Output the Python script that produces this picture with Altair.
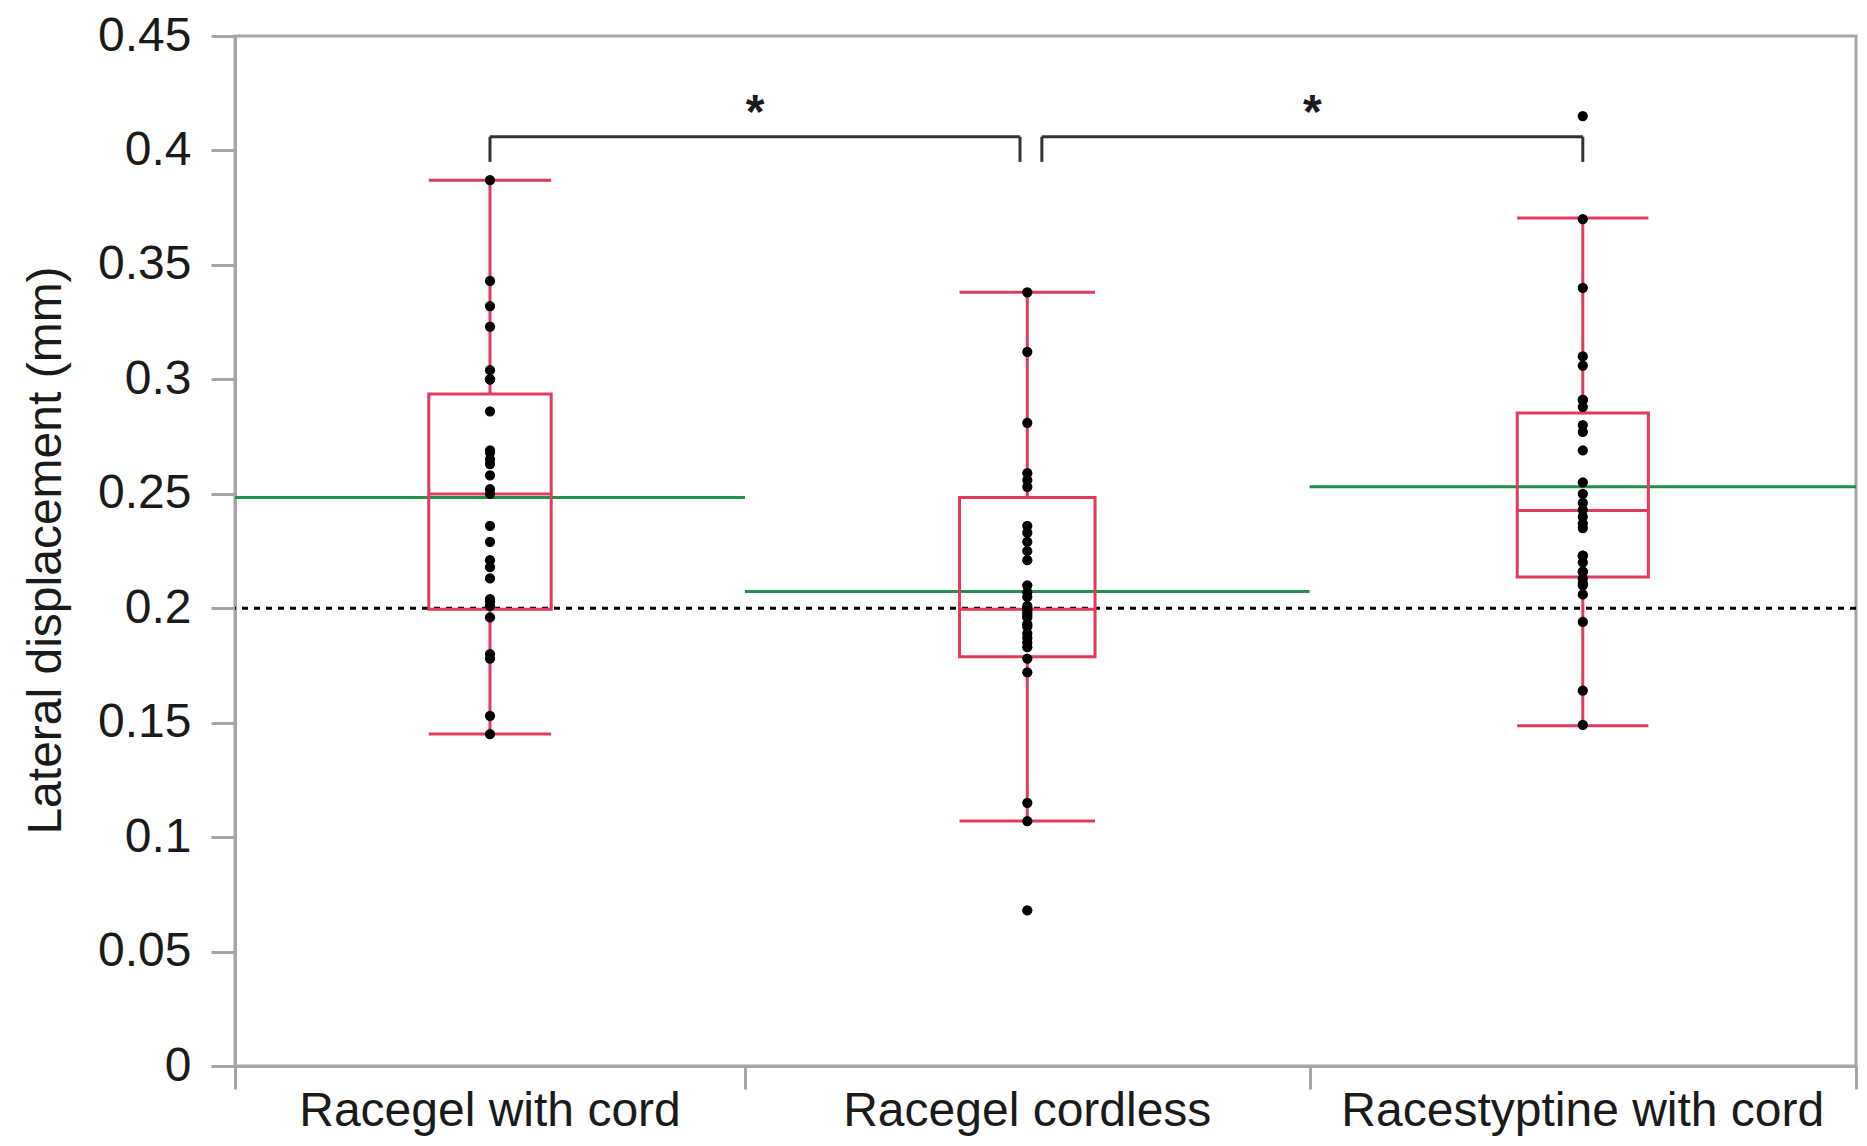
import altair as alt
import pandas as pd
import numpy as np

# ---------------- data ----------------
groups = ["Racegel with cord", "Racegel cordless", "Racestyptine with cord"]

pts_racegel_cord = [0.387, 0.343, 0.332, 0.323, 0.304, 0.300, 0.300, 0.286, 0.269,
                    0.268, 0.265, 0.263, 0.258, 0.252, 0.250, 0.236, 0.229, 0.221,
                    0.218, 0.213, 0.204, 0.203, 0.201, 0.196, 0.180, 0.178, 0.153,
                    0.145]
pts_racegel_cordless = [0.338, 0.312, 0.281, 0.259, 0.256, 0.253, 0.236, 0.233, 0.229,
                        0.225, 0.221, 0.210, 0.207, 0.205, 0.201, 0.200, 0.199, 0.198,
                        0.197, 0.196, 0.193, 0.192, 0.189, 0.187, 0.185, 0.183, 0.178,
                        0.172, 0.115, 0.107, 0.068]
pts_racestyptine_cord = [0.415, 0.370, 0.340, 0.310, 0.306, 0.291, 0.291, 0.288, 0.280,
                         0.277, 0.269, 0.255, 0.250, 0.246, 0.243, 0.240, 0.237, 0.235,
                         0.223, 0.223, 0.220, 0.216, 0.216, 0.213, 0.211, 0.210, 0.206,
                         0.194, 0.164, 0.149]
points = [pts_racegel_cord, pts_racegel_cordless, pts_racestyptine_cord]

q1 = [0.1995, 0.1788, 0.2136]
median = [0.2499, 0.1995, 0.2427]
q3 = [0.2936, 0.2484, 0.2853]
whisker_lo = [0.145, 0.107, 0.1486]
whisker_hi = [0.387, 0.338, 0.3705]
group_mean = [0.2484, 0.2073, 0.2531]
reference = 0.2

# significance brackets: (from group, to group, label)
sig_pairs = [(0, 1, "*"), (1, 2, "*")]
bracket_top = 0.406
bracket_leg = 0.395
star_level = 0.41

y_ticks = [0, 0.05, 0.1, 0.15, 0.2, 0.25, 0.3, 0.35, 0.4, 0.45]

# ---------------- layout derived from group sizes (JMP style) ----------------
n = np.array([len(p) for p in points])
starts = np.concatenate([[0], np.cumsum(n)[:-1]])
ends = np.cumsum(n)
centers = (starts + ends) / 2
total = float(ends[-1])
half_box = 0.12 * n

pt_rows = []
for g, c, vals in zip(groups, centers, points):
    for v in vals:
        pt_rows.append({"group": g, "x": c, "value": v})
df_pts = pd.DataFrame(pt_rows)

df_box = pd.DataFrame({
    "group": groups, "center": centers,
    "lo": centers - half_box, "hi": centers + half_box,
    "gstart": starts, "gend": ends,
    "q1": q1, "med": median, "q3": q3,
    "wlo": whisker_lo, "whi": whisker_hi, "mean": group_mean,
})

gap = 0.8
br_rows = []
for a, b, lab in sig_pairs:
    xa = centers[a] + (gap if a == 1 else 0)
    xb = centers[b] - (gap * 0.5 if b == 1 else 0)
    br_rows.append({"xa": xa, "xb": xb, "top": bracket_top, "leg": bracket_leg,
                    "mid": (xa + xb) / 2, "star": star_level, "label": lab})
df_br = pd.DataFrame(br_rows)

df_ref = pd.DataFrame({"ref": [reference]})

# ---------------- styling ----------------
RED = "#e03a5c"
GREEN = "#23904a"
GREY = "#a6a6a6"
FONT = "Liberation Sans"
TXT = "#1a1a1a"

xscale = alt.Scale(domain=[0, total], nice=False, zero=False)
yscale = alt.Scale(domain=[0, 0.45], nice=False)
xaxis = alt.Axis(values=[float(v) for v in np.concatenate([[0], ends])], labels=False,
                 ticks=True, tickSize=23, tickWidth=3, tickColor=GREY,
                 domainColor=GREY, domainWidth=3, grid=False, title=None)
yaxis = alt.Axis(values=y_ticks, format="~g", tickSize=24, tickWidth=3, tickColor=GREY,
                 domainColor=GREY, domainWidth=3, grid=False,
                 labelFont=FONT, labelFontSize=48, labelColor=TXT, labelPadding=20,
                 title="Lateral displacement (mm)", titleFont=FONT, titleFontSize=48,
                 titleFontWeight="normal", titleColor=TXT,
                 titleAngle=270, titleAlign="center", titleBaseline="alphabetic",
                 titleX=-175, titleY=514)


def X(f):
    return alt.X(f, type="quantitative", scale=xscale, axis=xaxis)


def Y(f):
    return alt.Y(f, type="quantitative", scale=yscale, axis=yaxis)


base_box = alt.Chart(df_box)

mean_lines = base_box.mark_rule(color=GREEN, strokeWidth=3).encode(
    x=X("gstart"), x2="gend", y=Y("mean"))

ref_line = alt.Chart(df_ref).mark_rule(color="black", strokeWidth=3, strokeDash=[6, 6]).encode(
    y=Y("ref"))

boxes = base_box.mark_rect(fillOpacity=0, stroke=RED, strokeWidth=3).encode(
    x=X("lo"), x2="hi", y=Y("q1"), y2="q3")

medians = base_box.mark_rule(color=RED, strokeWidth=3).encode(
    x=X("lo"), x2="hi", y=Y("med"))

whisk_low = base_box.mark_rule(color=RED, strokeWidth=3).encode(
    x=X("center"), y=Y("wlo"), y2="q1")
whisk_high = base_box.mark_rule(color=RED, strokeWidth=3).encode(
    x=X("center"), y=Y("q3"), y2="whi")
cap_low = base_box.mark_rule(color=RED, strokeWidth=3).encode(
    x=X("lo"), x2="hi", y=Y("wlo"))
cap_high = base_box.mark_rule(color=RED, strokeWidth=3).encode(
    x=X("lo"), x2="hi", y=Y("whi"))

dots = alt.Chart(df_pts).mark_circle(size=105, color="black", opacity=1).encode(
    x=X("x"), y=Y("value"))

base_br = alt.Chart(df_br)
br_h = base_br.mark_rule(color="#333333", strokeWidth=3).encode(
    x=X("xa"), x2="xb", y=Y("top"))
br_la = base_br.mark_rule(color="#333333", strokeWidth=3).encode(
    x=X("xa"), y=Y("leg"), y2="top")
br_lb = base_br.mark_rule(color="#333333", strokeWidth=3).encode(
    x=X("xb"), y=Y("leg"), y2="top")
stars = base_br.mark_text(font=FONT, fontSize=48, fontWeight="bold", color=TXT,
                          baseline="alphabetic", align="center").encode(
    x=X("mid"), y=Y("star"), text="label:N")

xlabels = base_box.mark_text(font=FONT, fontSize=48, color=TXT, baseline="alphabetic",
                             align="center", dy=60).encode(
    x=X("center"), y=alt.Y(datum=0, type="quantitative", scale=yscale, axis=yaxis),
    text="group:N")

chart = alt.layer(
    mean_lines, ref_line, whisk_low, whisk_high, cap_low, cap_high, boxes, medians,
    dots, br_h, br_la, br_lb, stars, xlabels
).properties(
    width=1621, height=1030,
    padding={"left": 227, "top": 28, "right": 2, "bottom": 72},
    autosize=alt.AutoSizeParams(type="none"),
    background="white",
).configure_view(stroke=GREY, strokeWidth=3)

chart.save("out.html", embed_options={"renderer": "svg", "actions": False})
